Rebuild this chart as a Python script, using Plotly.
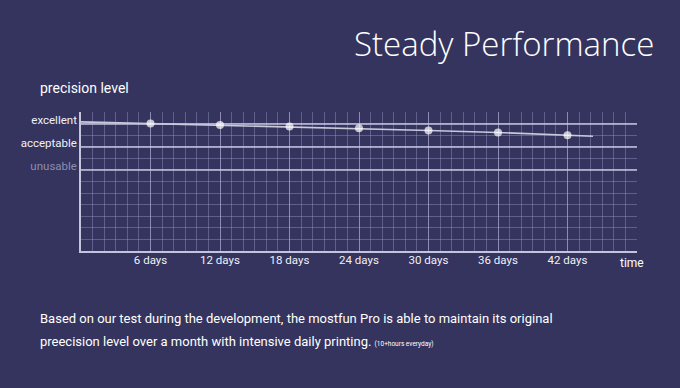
import plotly.graph_objects as go

# ---- data ----
days = [0, 6, 12, 18, 24, 30, 36, 42, 44.2]
precision = [11.15, 11.0, 10.88, 10.75, 10.6, 10.4, 10.23, 10.0, 9.9]
marker_sizes = [0, 8, 8, 8, 8, 8, 8, 8, 0]
x_tick_vals = [6, 12, 18, 24, 30, 36, 42]
x_tick_text = ["6 days", "12 days", "18 days", "24 days", "30 days", "36 days", "42 days"]
y_tick_vals = [11, 9, 7]
y_tick_text = ["excellent", "acceptable", "<span style='color:#8d8db0'>unusable</span>"]
body_line1 = "Based on our test during the development, the mostfun Pro is able to maintain its original"
body_line2 = ("preecision level over a month with intensive daily printing. "
              "<span style='font-size:6.5px'>(10+hours everyday)</span>")

BG = "#34345e"
NARROW = "Roboto, Liberation Sans, sans-serif"

fig = go.Figure()
fig.add_trace(go.Scatter(
    x=days, y=precision, mode="lines+markers",
    line=dict(color="#c9c9dc", width=1.6),
    marker=dict(size=marker_sizes, color="#ffffff", line=dict(width=0)),
    showlegend=False, hoverinfo="skip",
))

fig.update_layout(
    width=680, height=388,
    paper_bgcolor=BG, plot_bgcolor=BG,
    margin=dict(l=81, r=43, t=112, b=137),
    font=dict(family=NARROW, color="#ffffff"),
    xaxis=dict(
        range=[0, 48], showline=True, linecolor="#c4c4dc", linewidth=2,
        tickvals=x_tick_vals, ticktext=x_tick_text, ticks="",
        tickfont=dict(size=11.5, color="#f0f0f8", family=NARROW),
        ticklabelstandoff=-3,
        showgrid=True, gridcolor="rgba(175,175,215,0.55)", gridwidth=1.2,
        zeroline=False, fixedrange=True,
        minor=dict(dtick=1, tick0=0, showgrid=True, gridcolor="rgba(155,155,205,0.42)", gridwidth=1),
    ),
    yaxis=dict(
        range=[0, 12], showline=True, linecolor="#c4c4dc", linewidth=1.5,
        tickvals=y_tick_vals, ticktext=y_tick_text, ticks="",
        tickfont=dict(size=11.5, color="#f0f0f8", family=NARROW),
        ticklabelshift=-4, ticklabelstandoff=0,
        showgrid=True, gridcolor="rgba(205,205,230,0.7)", gridwidth=1.5,
        zeroline=False, fixedrange=True,
        minor=dict(dtick=1, tick0=0, showgrid=True, gridcolor="rgba(155,155,205,0.42)", gridwidth=1),
    ),
    annotations=[
        dict(text="Steady Performance", xref="paper", yref="paper", x=1.035, y=1.0,
             xanchor="right", yanchor="bottom", yshift=44, showarrow=False,
             font=dict(family="Open Sans, Lato, sans-serif", size=33, color="#ffffff", weight=300)),
        dict(text="precision level", xref="paper", yref="paper", x=0, y=1.0,
             xanchor="left", yanchor="bottom", xshift=-43, yshift=14, showarrow=False,
             font=dict(family=NARROW, size=14, color="#ffffff")),
        dict(text="time", xref="paper", yref="paper", x=1.0, y=0,
             xanchor="center", yanchor="top", xshift=-5, yshift=-3, showarrow=False,
             font=dict(family=NARROW, size=12, color="#ffffff")),
        dict(text=body_line1, xref="paper", yref="paper", x=0, y=0, xanchor="left", yanchor="middle",
             xshift=-43, yshift=-67, showarrow=False, align="left",
             font=dict(family=NARROW, size=13, color="#ffffff")),
        dict(text=body_line2, xref="paper", yref="paper", x=0, y=0, xanchor="left", yanchor="middle",
             xshift=-43, yshift=-90, showarrow=False, align="left",
             font=dict(family=NARROW, size=13, color="#ffffff")),
    ],
)

fig.write_html("out.html", config={"displayModeBar": False},
               post_script="document.body.style.margin='0';")
